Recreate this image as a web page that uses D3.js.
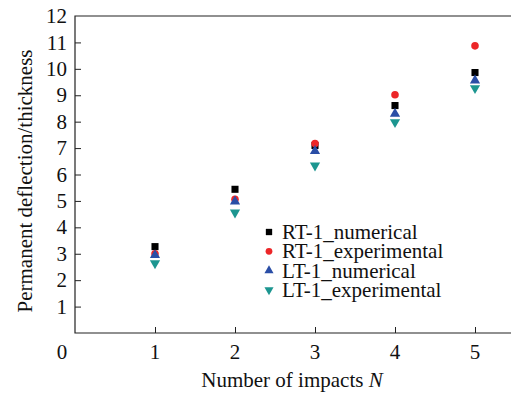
<!DOCTYPE html>
<html>
<head>
<meta charset="utf-8">
<script src="https://cdn.jsdelivr.net/npm/d3@7/dist/d3.min.js"></script>
<style>
  html, body { margin: 0; padding: 0; background: #fff; }
  svg { display: block; }
  text { font-family: "Liberation Serif", "Times New Roman", serif; fill: #111; }
</style>
</head>
<body>
<svg id="chart" width="511" height="394"></svg>
<script>
// Permanent deflection / thickness versus number of impacts
const impacts = [1, 2, 3, 4, 5];
const rtNumerical = [3.27, 5.44, 7.10, 8.61, 9.86];
const rtExperimental = [3.00, 5.06, 7.17, 9.02, 10.87];
const ltNumerical = [2.95, 4.98, 6.89, 8.30, 9.56];
const ltExperimental = [2.64, 4.56, 6.34, 7.98, 9.27];
const seriesNames = ["RT-1_numerical", "RT-1_experimental", "LT-1_numerical", "LT-1_experimental"];
const yTicks = [1, 2, 3, 4, 5, 6, 7, 8, 9, 10, 11, 12];
const xTicks = [1, 2, 3, 4, 5];

const series = [
  { name: seriesNames[0], values: rtNumerical, shape: d3.symbolSquare, size: 50, color: "#000000" },
  { name: seriesNames[1], values: rtExperimental, shape: d3.symbolCircle, size: 45, color: "#ec2628" },
  { name: seriesNames[2], values: ltNumerical, shape: d3.symbolTriangle, size: 45, color: "#2a4ea6", rot: 0 },
  { name: seriesNames[3], values: ltExperimental, shape: d3.symbolTriangle, size: 45, color: "#1c9690", rot: 180 }
];

const fs = 21;
const svg = d3.select("#chart");
const plotLeft = 75, plotTop = 16, plotBottom = 333;
const x = d3.scaleLinear().domain([0, 5.5]).range([plotLeft, plotLeft + 80 * 5.5]);
const y = d3.scaleLinear().domain([0, 12]).range([plotBottom, plotTop]);

// frame
svg.append("path")
  .attr("d", `M${x(5.5)},${plotTop}H${plotLeft}V${plotBottom}H${x(5.5)}`)
  .attr("fill", "none").attr("stroke", "#222").attr("stroke-width", 1.2);

// y axis ticks (inward) and labels
const yAxis = d3.axisLeft(y).tickValues(yTicks.filter(v => v < 12)).tickSizeInner(-6).tickSizeOuter(0).tickFormat("");
svg.append("g").attr("transform", `translate(${plotLeft},0)`).call(yAxis)
  .call(g => g.select(".domain").remove())
  .call(g => g.selectAll("line").attr("stroke", "#222"));
svg.append("g").selectAll("text").data(yTicks).join("text")
  .attr("x", 67).attr("y", d => y(d)).attr("dy", "0.34em")
  .attr("text-anchor", "end").attr("font-size", fs).text(d => d);

// x axis ticks (inward) and labels
const xAxis = d3.axisBottom(x).tickValues(xTicks).tickSizeInner(-6).tickSizeOuter(0).tickFormat("");
svg.append("g").attr("transform", `translate(0,${plotBottom})`).call(xAxis)
  .call(g => g.select(".domain").remove())
  .call(g => g.selectAll("line").attr("stroke", "#222"));
svg.append("g").selectAll("text").data(xTicks).join("text")
  .attr("x", d => x(d)).attr("y", 359)
  .attr("text-anchor", "middle").attr("font-size", fs).text(d => d);
// shared origin label
svg.append("text").attr("x", 62).attr("y", 359).attr("text-anchor", "middle")
  .attr("font-size", fs).text("0");

// axis titles
const xt = svg.append("text").attr("x", 292).attr("y", 387).attr("text-anchor", "middle").attr("font-size", fs);
xt.append("tspan").text("Number of impacts ");
xt.append("tspan").attr("font-style", "italic").text("N");
svg.append("text")
  .attr("transform", `translate(32,181) rotate(-90)`)
  .attr("text-anchor", "middle").attr("font-size", fs)
  .text("Permanent deflection/thickness");

// markers
series.forEach(s => {
  svg.append("g").selectAll("path").data(impacts.map((n, i) => [n, s.values[i]])).join("path")
    .attr("d", d3.symbol().type(s.shape).size(s.size))
    .attr("transform", d => `translate(${x(d[0])},${y(d[1])})` + (s.rot ? ` rotate(${s.rot})` : ""))
    .attr("fill", s.color);
});

// legend
const legend = svg.append("g").attr("transform", "translate(269,232)");
series.forEach((s, i) => {
  const g = legend.append("g").attr("transform", `translate(0,${i * 19.3})`);
  g.append("path")
    .attr("d", d3.symbol().type(s.shape).size(s.size * 0.8))
    .attr("transform", s.rot ? `rotate(${s.rot})` : null)
    .attr("fill", s.color);
  g.append("text").attr("x", 13).attr("dy", "0.34em").attr("font-size", fs).text(s.name);
});
</script>
</body>
</html>
